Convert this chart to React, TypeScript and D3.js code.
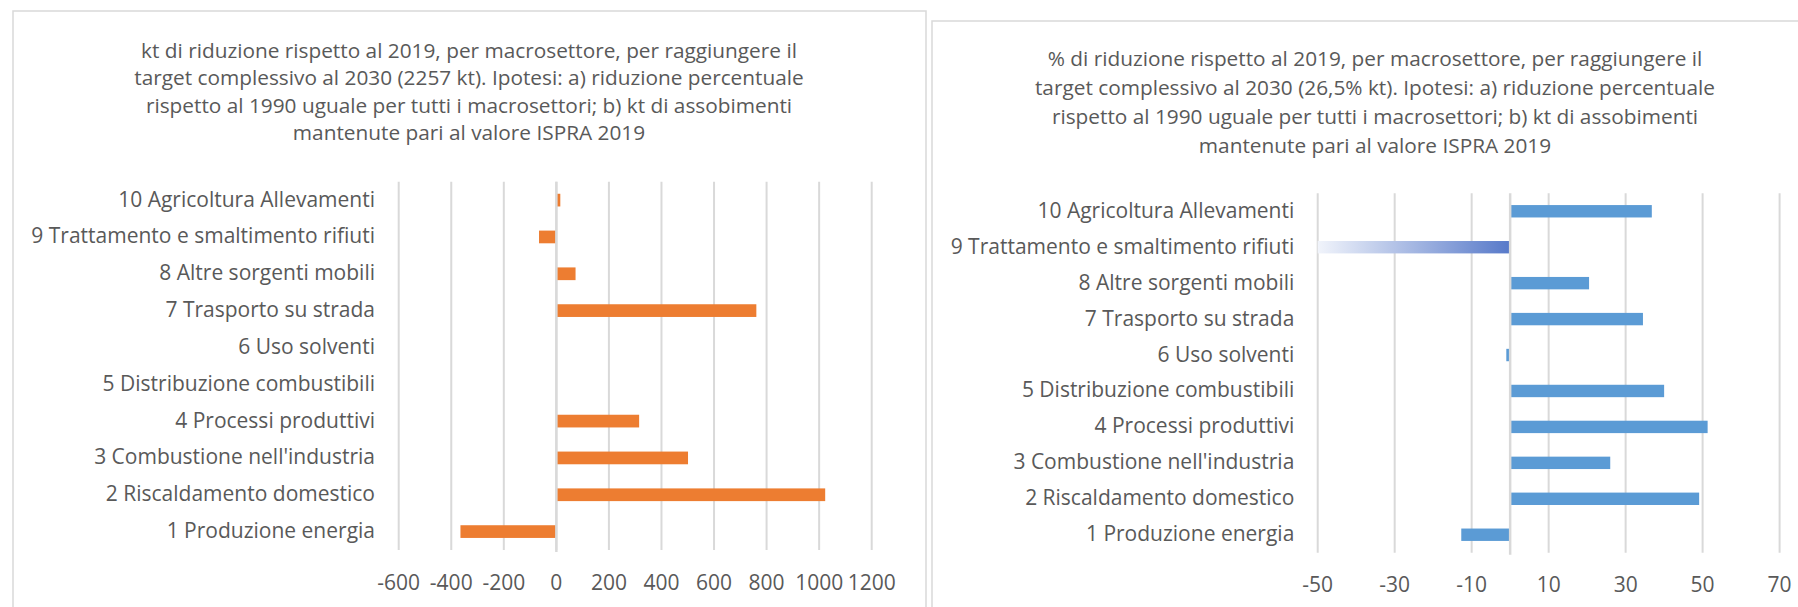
import * as d3 from 'd3';

const categories = [
  '1 Produzione energia',
  '2 Riscaldamento domestico',
  "3 Combustione nell'industria",
  '4 Processi produttivi',
  '5 Distribuzione combustibili',
  '6 Uso solventi',
  '7 Trasporto su strada',
  '8 Altre sorgenti mobili',
  '9 Trattamento e smaltimento rifiuti',
  '10 Agricoltura Allevamenti',
];

// kt reduction vs 2019
const ktValues = [-365, 1023, 501, 315, 0, 0, 761, 73, -66, 15];
// % reduction vs 2019
const pctValues = [-12.7, 49.1, 26, 51.3, 40, -1, 34.5, 20.5, -50, 36.8];

const ktTicks = [-600, -400, -200, 0, 200, 400, 600, 800, 1000, 1200];
const pctTicks = [-50, -30, -10, 10, 30, 50, 70];

const ktTitle = [
  'kt di riduzione rispetto al 2019, per macrosettore, per raggiungere il',
  'target complessivo al 2030 (2257 kt). Ipotesi: a) riduzione percentuale',
  'rispetto al 1990 uguale per tutti i macrosettori; b) kt di assobimenti',
  'mantenute pari al valore ISPRA 2019',
];
const pctTitle = [
  '% di riduzione rispetto al 2019, per macrosettore, per raggiungere il',
  'target complessivo al 2030 (26,5% kt). Ipotesi: a) riduzione percentuale',
  'rispetto al 1990 uguale per tutti i macrosettori; b) kt di assobimenti',
  'mantenute pari al valore ISPRA 2019',
];

const FONT = '"Open Sans", sans-serif';
const TEXT = '#595959';
const GRID = '#d9d9d9';

type PanelProps = {
  id: string;
  box: { x: number; y: number; w: number; h: number };
  title: string[];
  titleX: number;
  titleY: number[];
  values: number[];
  domain: [number, number];
  ticks: number[];
  plot: { left: number; right: number; top: number; bottom: number };
  labelX: number;
  tickY: number;
  color: string;
  gradientIndex?: number;
};

const BarPanel = (p: PanelProps) => {
  const x = d3.scaleLinear().domain(p.domain).range([p.plot.left, p.plot.right]);
  const y = d3
    .scaleBand<string>()
    .domain(categories)
    .range([p.plot.bottom, p.plot.top])
    .padding(0);
  const bw = y.bandwidth();
  const barH = bw * 0.345;
  const gradId = `grad-${p.id}`;

  return (
    <g>
      <defs>
        <linearGradient id={gradId} x1="0%" x2="100%">
          <stop offset="0%" stopColor="#f1f4fb" />
          <stop offset="100%" stopColor="#5779c9" />
        </linearGradient>
      </defs>
      <rect
        x={p.box.x}
        y={p.box.y}
        width={p.box.w}
        height={p.box.h}
        fill="#fff"
        stroke={GRID}
        strokeWidth={1.5}
      />
      {p.title.map((line, i) => (
        <text
          key={i}
          x={p.titleX}
          y={p.titleY[i]}
          textAnchor="middle"
          dominantBaseline="central"
          fontFamily={FONT}
          fontSize={20.8}
          fill={TEXT}
        >
          {line}
        </text>
      ))}
      {/* gridlines */}
      {p.ticks.map((t) => (
        <line
          key={t}
          x1={x(t)}
          x2={x(t)}
          y1={p.plot.top}
          y2={p.plot.bottom}
          stroke={GRID}
          strokeWidth={2}
        />
      ))}
      {/* bars */}
      {categories.map((c, i) => {
        const v = p.values[i];
        if (v === 0) return null;
        const x0 = x(Math.min(0, v));
        const x1 = x(Math.max(0, v));
        const yc = (y(c) ?? 0) + bw / 2;
        return (
          <rect
            key={c}
            x={x0}
            y={yc - barH / 2}
            width={x1 - x0}
            height={barH}
            fill={p.gradientIndex === i ? `url(#${gradId})` : p.color}
          />
        );
      })}
      {/* zero axis */}
      <line
        x1={x(0)}
        x2={x(0)}
        y1={p.plot.top}
        y2={p.plot.bottom + 2}
        stroke={GRID}
        strokeWidth={2.5}
      />
      {/* category labels */}
      {categories.map((c) => (
        <text
          key={c}
          x={p.labelX}
          y={(y(c) ?? 0) + bw / 2 - 1.5}
          textAnchor="end"
          dominantBaseline="central"
          fontFamily={FONT}
          fontSize={21}
          fill={TEXT}
        >
          {c}
        </text>
      ))}
      {/* tick labels */}
      {p.ticks.map((t) => (
        <text
          key={t}
          x={x(t)}
          y={p.tickY}
          textAnchor="middle"
          dominantBaseline="central"
          fontFamily={FONT}
          fontSize={21}
          fill={TEXT}
        >
          {t}
        </text>
      ))}
    </g>
  );
};

const App = () => {
  return (
    <div style={{ position: 'absolute', left: 0, top: 0 }}>
      <svg width={1798} height={607} style={{ display: 'block', background: '#fff' }}>
        <BarPanel
          id="kt"
          box={{ x: 13, y: 11, w: 913, h: 700 }}
          title={ktTitle}
          titleX={469}
          titleY={[50, 77.4, 104.8, 132.2]}
          values={ktValues}
          domain={[-600, 1200]}
          ticks={ktTicks}
          plot={{ left: 398.7, right: 871.7, top: 181.7, bottom: 550 }}
          labelX={375}
          tickY={582}
          color="#ed7d31"
        />
        <BarPanel
          id="pct"
          box={{ x: 932, y: 21, w: 900, h: 700 }}
          title={pctTitle}
          titleX={1375}
          titleY={[58.3, 87.2, 116.1, 145]}
          values={pctValues}
          domain={[-50, 70]}
          ticks={pctTicks}
          plot={{ left: 1317.7, right: 1779.6, top: 193.3, bottom: 552.7 }}
          labelX={1294.3}
          tickY={584.3}
          color="#5b9bd5"
          gradientIndex={8}
        />
      </svg>
    </div>
  );
};

export default App;
